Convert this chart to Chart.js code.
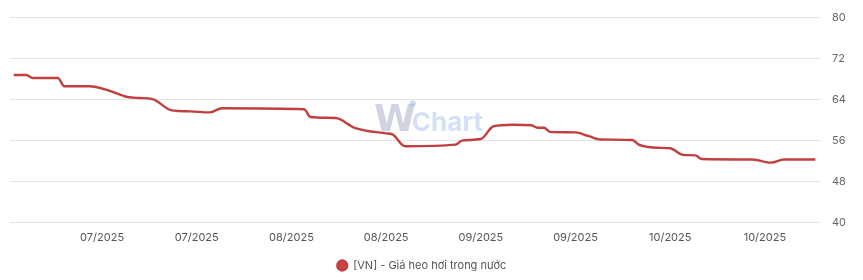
<!DOCTYPE html>
<html>
<head>
<meta charset="utf-8">
<script src="https://cdn.jsdelivr.net/npm/chart.js@4.4.1/dist/chart.umd.min.js"></script>
<style>
  html, body { margin: 0; padding: 0; background: #ffffff; }
  #wrap { width: 863px; height: 280px; position: relative; }
</style>
</head>
<body>
<div id="wrap"><canvas id="c"></canvas></div>
<script>
// Day index (from start of series) and price values
const days = [0, 2, 3, 7, 8, 12, 15, 18, 20, 22, 25, 28, 31, 33, 46, 47, 51, 54, 59, 60, 62, 70, 71, 74, 76, 79, 82, 83, 84, 85, 89, 91, 93, 98, 99, 102, 104, 106, 108, 109, 117, 120, 122, 127];
const values = [68.8, 68.8, 68.2, 68.2, 66.6, 66.6, 65.8, 64.5, 64.3, 64.1, 61.9, 61.7, 61.5, 62.3, 62.1, 60.6, 60.4, 58.5, 57.4, 57.2, 54.9, 55.2, 56.0, 56.3, 58.8, 59.1, 59.0, 58.5, 58.5, 57.7, 57.6, 56.9, 56.2, 56.1, 55.2, 54.6, 54.5, 53.2, 53.1, 52.4, 52.3, 51.7, 52.3, 52.3];
const tickDays = [14, 29, 44, 59, 74, 89, 104, 119];
const tickLabels = ['07/2025', '07/2025', '08/2025', '08/2025', '09/2025', '09/2025', '10/2025', '10/2025'];
const yTicks = [40, 48, 56, 64, 72, 80];
const seriesName = '[VN] - Giá heo hơi trong nước';

const points = days.map((d, i) => ({ x: d, y: values[i] }));

const watermark = {
  id: 'watermark',
  beforeDatasetsDraw(chart) {
    const { ctx, chartArea } = chart;
    const cx = (chartArea.left + chartArea.right) / 2 + 13;
    const base = chartArea.top + 113;
    ctx.save();
    ctx.textBaseline = 'alphabetic';
    ctx.font = 'bold 38px "DejaVu Sans", sans-serif';
    const wW = ctx.measureText('W').width;
    ctx.font = 'bold 26px Inter, sans-serif';
    const cW = ctx.measureText('Chart').width;
    const total = wW + cW - 4;
    let x = cx - total / 2;
    ctx.font = 'bold 38px "DejaVu Sans", sans-serif';
    ctx.fillStyle = 'rgba(190,192,214,0.7)';
    ctx.fillText('W', x, base);
    ctx.fillStyle = 'rgba(170,190,240,0.6)';
    ctx.beginPath();
    ctx.arc(x + wW - 3, base - 27, 3, 0, Math.PI * 2);
    ctx.fill();
    ctx.font = 'bold 26px Inter, sans-serif';
    ctx.fillStyle = 'rgba(196,210,245,0.7)';
    ctx.fillText('Chart', x + wW - 4, base);
    ctx.restore();
  }
};

const legendShift = {
  id: 'legendShift',
  afterLayout(chart) {
    const lg = chart.legend;
    if (lg) {
      lg.left -= 12;
      lg.right -= 12;
      lg.top += 1;
      lg.bottom += 1;
    }
  }
};

new Chart(document.getElementById('c'), {
  type: 'line',
  data: {
    datasets: [{
      label: seriesName,
      data: points,
      borderColor: '#c23f3f',
      backgroundColor: '#cc4545',
      borderWidth: 2.4,
      pointRadius: 0,
      cubicInterpolationMode: 'monotone',
      fill: false
    }]
  },
  options: {
    responsive: true,
    maintainAspectRatio: false,
    animation: false,
    layout: { padding: { top: 6.5, right: 6, left: 10, bottom: 0 } },
    plugins: {
      legend: {
        position: 'bottom',
        labels: {
          usePointStyle: true,
          pointStyle: 'circle',
          boxWidth: 11,
          boxHeight: 7,
          color: '#555',
          font: { family: 'Inter', size: 11 },
          padding: 5.25
        }
      },
      tooltip: { enabled: false }
    },
    scales: {
      x: {
        type: 'linear',
        min: -0.59,
        max: 127.88,
        grid: { display: false, drawTicks: false, tickLength: 0 },
        border: { display: false },
        afterBuildTicks(axis) {
          axis.ticks = tickDays.map(v => ({ value: v }));
        },
        ticks: {
          autoSkip: false,
          maxRotation: 0,
          color: '#555',
          font: { family: 'Inter', size: 11 },
          padding: 9,
          callback(value, index) { return tickLabels[index]; }
        }
      },
      y: {
        position: 'right',
        min: 40,
        max: 80,
        afterBuildTicks(axis) {
          axis.ticks = yTicks.map(v => ({ value: v }));
        },
        grid: {
          color: '#e4e4e4',
          drawTicks: false
        },
        border: { display: false },
        ticks: {
          color: '#666',
          font: { family: 'Inter', size: 11 },
          padding: 11
        }
      }
    }
  },
  plugins: [watermark, legendShift]
});
</script>
</body>
</html>
